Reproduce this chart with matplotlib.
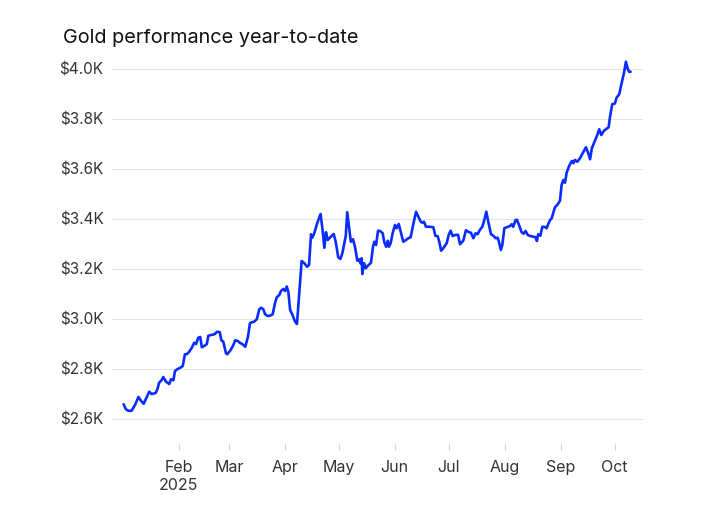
import matplotlib
matplotlib.use("Agg")
import matplotlib.pyplot as plt
import pandas as pd
import numpy as np

plt.rcParams['font.family'] = ['Inter', 'DejaVu Sans']

# ---- data ----
title = "Gold performance year-to-date"
start_date = "2025-01-01"
# days since Jan 1 2025
day_offsets = [
    0.5, 1.7, 3.1, 4.9, 6.8, 8.7, 10.2, 11.6, 13.4, 14.7, 16.0, 18.3, 19.4, 20.1, 21.6, 22.5,
    24.0, 25.8, 26.8, 28.1, 29.0, 30.5, 32.4, 33.3, 34.5, 35.5, 36.8, 38.3, 39.7, 40.7, 41.9,
    43.0, 43.9, 45.6, 46.7, 47.5, 49.0, 50.9, 52.4, 53.9, 54.7, 55.8, 57.3, 58.0, 59.9, 61.4,
    62.4, 63.8, 65.0, 66.5, 68.0, 69.5, 70.6, 71.6, 72.9, 74.4, 75.8, 76.9, 78.0, 79.0, 80.4,
    81.7, 83.2, 84.5, 85.5, 86.9, 87.8, 89.1, 90.1, 91.0, 91.9, 92.9, 94.3, 95.6, 96.7,
    98.4, 99.3, 100.8, 102.3, 103.4, 104.5, 105.2, 106.3, 107.8, 108.9, 109.8, 110.8, 111.9,
    112.8, 113.8, 115.2, 117.1, 118.2, 119.6, 120.8, 121.9, 123.0, 123.8, 124.6, 125.6, 126.6,
    127.8, 128.9, 130.2, 131.1, 131.9, 132.6, 133.0, 133.9, 134.9, 136.0, 137.8, 138.9, 139.6,
    140.6, 141.7, 142.8, 144.3, 145.1, 146.2, 147.1, 147.7, 148.7, 149.8, 151.1, 152.0, 153.2,
    154.3, 155.7, 157.2, 158.5, 159.8, 161.3, 162.8, 164.1, 165.4, 166.5, 167.2, 168.3, 170.1,
    172.4, 173.5, 174.8, 175.7, 176.7, 177.9, 179.8, 180.9, 182.0, 183.1, 184.6, 186.1, 187.2,
    189.0, 190.5, 192.2, 193.3, 194.6, 195.9, 197.0, 198.2, 199.6, 200.7, 201.8, 202.9, 204.4,
    205.7, 207.0, 208.1, 208.8, 209.9, 210.7, 211.8, 213.1, 215.0, 215.9, 216.7, 218.1, 218.8,
    220.1, 221.4, 222.5, 223.6, 224.8, 226.2, 228.1, 229.2, 229.9, 230.6, 231.8, 232.9, 234.4,
    235.3, 236.2, 237.2, 238.1, 238.9, 239.9, 241.2, 242.7, 243.6, 244.5, 245.5, 246.4, 247.8,
    249.3, 250.1, 251.0, 252.3, 253.8, 255.3, 257.1, 258.4, 259.4, 260.4, 261.9, 263.4, 264.5,
    265.6, 267.1, 268.6, 269.7, 270.5, 271.2, 271.7, 273.2, 274.1, 275.6, 276.9, 278.2, 279.3,
    280.3, 281.1, 281.9,
]
gold_price = [
    2659, 2639, 2633, 2633, 2656, 2688, 2672, 2661, 2689, 2709, 2700, 2704, 2723, 2744, 2756, 2768,
    2749, 2740, 2759, 2755, 2792, 2800, 2807, 2812, 2859, 2859, 2868, 2885, 2905, 2900, 2925,
    2928, 2887, 2894, 2900, 2933, 2936, 2939, 2949, 2947, 2915, 2909, 2863, 2859, 2876, 2896,
    2915, 2912, 2905, 2899, 2889, 2929, 2983, 2987, 2989, 2999, 3039, 3045, 3039, 3019, 3012,
    3013, 3019, 3063, 3087, 3096, 3112, 3120, 3112, 3130, 3109, 3036, 3015, 2990, 2980,
    3143, 3232, 3223, 3209, 3216, 3339, 3325, 3343, 3380, 3403, 3420, 3363, 3285,
    3347, 3316, 3327, 3340, 3309, 3247, 3240, 3263, 3303, 3333, 3427, 3369, 3309,
    3319, 3289, 3233, 3239, 3223, 3243, 3180, 3223, 3203, 3213, 3225, 3289, 3309,
    3296, 3353, 3352, 3343, 3309, 3289, 3313, 3289, 3303, 3343, 3376, 3363, 3380,
    3349, 3309, 3316, 3323, 3327, 3380, 3429, 3409, 3389, 3385, 3389, 3369, 3369,
    3367, 3333, 3331, 3309, 3273, 3283, 3303, 3336, 3353, 3332, 3336, 3337, 3299,
    3313, 3355, 3347, 3345, 3323, 3343, 3339, 3356, 3369, 3396, 3429, 3389, 3339,
    3333, 3323, 3325, 3309, 3276, 3296, 3363, 3367, 3372, 3379, 3369, 3396, 3397,
    3373, 3347, 3341, 3352, 3336, 3332, 3329, 3327, 3312, 3339, 3333, 3369, 3368,
    3363, 3380, 3396, 3403, 3423, 3447, 3456, 3473, 3536, 3556, 3545, 3585, 3612,
    3632, 3623, 3636, 3629, 3643, 3663, 3687, 3663, 3639, 3683, 3709, 3736, 3759,
    3736, 3753, 3761, 3767, 3810, 3840, 3859, 3862, 3885, 3899, 3943, 3983, 4029,
    4000, 3989, 3989,
]
y_ticks = [2600, 2800, 3000, 3200, 3400, 3600, 3800, 4000]
y_tick_labels = ["$2.6K", "$2.8K", "$3.0K", "$3.2K", "$3.4K", "$3.6K", "$3.8K", "$4.0K"]
x_tick_dates = ["2025-02-01", "2025-03-01", "2025-04-01", "2025-05-01", "2025-06-01",
                "2025-07-01", "2025-08-01", "2025-09-01", "2025-10-01"]
x_tick_labels = ["Feb\n2025", "Mar", "Apr", "May", "Jun", "Jul", "Aug", "Sep", "Oct"]

# ---- figure ----
base = pd.Timestamp(start_date)
dates = base + pd.to_timedelta(np.array(day_offsets), unit="D")

fig = plt.figure(figsize=(7.27, 5.05), dpi=100)
ax = fig.add_axes([0.154, 0.1208, 0.7305, 0.7624])

ax.plot(dates, gold_price, color="#0a2cff", linewidth=1.9, solid_joinstyle="round",
        solid_capstyle="round", zorder=3)

ax.set_xlim(base + pd.Timedelta(days=-6.0), base + pd.Timedelta(days=288.8))
ax.set_ylim(2500, 4040)

ax.set_yticks(y_ticks)
ax.set_yticklabels(y_tick_labels)
ax.set_xticks(pd.to_datetime(x_tick_dates))
ax.set_xticklabels(x_tick_labels, linespacing=1.25)

ax.grid(axis="y", color="#e3e3e3", linewidth=0.8, zorder=0)
for s in ax.spines.values():
    s.set_visible(False)

ax.tick_params(axis="y", length=0, pad=6, labelsize=11, labelcolor="#333333")
ax.tick_params(axis="x", length=4.5, width=0.8, color="#d0d0d0", direction="out",
               pad=7, labelsize=11.5, labelcolor="#333333")

fig.text(63 / 727, 1 - 38 / 505, title, fontsize=14.3, color="#111111",
         ha="left", va="center")

fig.savefig("out.png", dpi=100, facecolor="white")
